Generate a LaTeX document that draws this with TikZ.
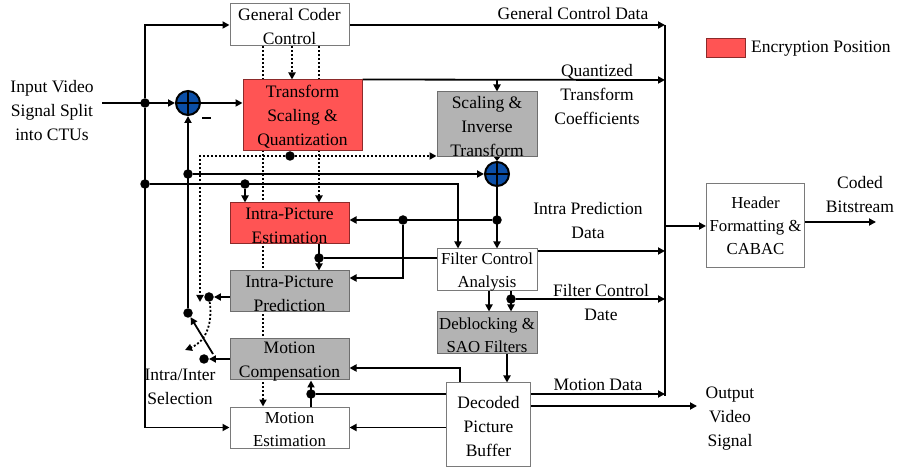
\documentclass[tikz,border=0pt]{standalone}
\usepackage{fontspec}
\setmainfont{Liberation Serif}
\usetikzlibrary{arrows.meta,backgrounds}
\definecolor{encred}{HTML}{FF5454}
\definecolor{encredb}{HTML}{8C2A2A}
\definecolor{boxgray}{HTML}{B3B3B3}
\definecolor{boxgrayb}{HTML}{6E6E6E}
\definecolor{wboxb}{HTML}{7A7A7A}
\definecolor{addblue}{HTML}{0B4EA6}
\begin{document}
\begin{tikzpicture}[x=1pt,y=-1pt,
  conn/.style={line width=1.8pt},
  arr/.style={conn,-{Triangle[length=7pt,width=7pt]}},
  dotl/.style={line width=1.8pt,dash pattern=on 2pt off 2pt},
  darr/.style={dotl,-{Triangle[length=7pt,width=7pt]}},
  wbox/.style={draw=wboxb,fill=white,line width=1pt,inner sep=0pt},
  rbox/.style={draw=encredb,fill=encred,line width=1pt,inner sep=0pt},
  gbox/.style={draw=boxgrayb,fill=boxgray,line width=1pt,inner sep=0pt},
  txt/.style={font=\rmfamily\fontsize{17.5}{24}\selectfont,align=center,inner sep=0pt},
  stxt/.style={font=\rmfamily\fontsize{16.8}{23}\selectfont,align=center,inner sep=0pt},
  jd/.style={circle,fill=black,inner sep=0pt,minimum size=9.5pt},
  adder/.style={circle,draw=black,fill=addblue,line width=2pt,inner sep=0pt,minimum size=24pt}
]
\useasboundingbox (0,0) rectangle (900,470);

% ---------- boxes ----------
\node[wbox,minimum width=119pt,minimum height=42pt] (gcc) at (289.5,25) {};
\node[rbox,minimum width=119pt,minimum height=71pt] (tsq) at (302.5,115.5) {};
\node[gbox,minimum width=100pt,minimum height=65pt] (sit) at (487,124.5) {};
\node[rbox,minimum width=119pt,minimum height=41pt] (ipe) at (289.5,223.5) {};
\node[gbox,minimum width=119pt,minimum height=41pt] (ipp) at (289.5,291.5) {};
\node[gbox,minimum width=119pt,minimum height=41pt] (mc) at (289.5,359.5) {};
\node[wbox,minimum width=119pt,minimum height=41pt] (me) at (289.5,427.5) {};
\node[wbox,minimum width=100pt,minimum height=42pt] (fca) at (487,270) {};
\node[gbox,minimum width=100pt,minimum height=42pt] (dsf) at (487,333) {};
\node[wbox,minimum width=84pt,minimum height=83pt] (dpb) at (488.5,424.5) {};
\node[wbox,minimum width=98pt,minimum height=84pt] (hdr) at (755.5,226) {};
\node[rbox,minimum width=39pt,minimum height=19pt] (leg) at (726,48.5) {};

\node[adder] (add1) at (188,103) {};
\node[adder] (add2) at (497,174) {};
\draw[line width=1.5pt] (add1.north) -- (add1.south) (add1.west) -- (add1.east);
\draw[line width=1.5pt] (add2.north) -- (add2.south) (add2.west) -- (add2.east);

% ---------- box texts ----------
\node[txt] (gccT) at (289.5,27) {General Coder\\Control};
\node[txt] (tsqT) at (302.5,117) {Transform\\Scaling \&\\Quantization};
\node[txt] (sitT) at (487,127) {Scaling \&\\Inverse\\Transform};
\node[txt] (ipeT) at (289.5,226) {Intra-Picture\\Estimation};
\node[txt] (ippT) at (289.5,294) {Intra-Picture\\Prediction};
\node[txt] (mcT) at (289.5,362) {Motion\\Compensation};
\node[stxt] (meT) at (289.5,430) {Motion\\Estimation};
\node[stxt] (fcaT) at (487,272) {Filter Control\\Analysis};
\node[stxt] (dsfT) at (487,335) {Deblocking \&\\SAO Filters};
\node[txt] (dpbT) at (488.5,427) {Decoded\\Picture\\Buffer};
\node[stxt] (hdrT) at (755.5,226) {Header\\Formatting \&\\CABAC};

% ---------- free labels ----------
\node[txt,anchor=west] (legT) at (751,48.5) {Encryption Position};
\node[txt] (gcdT) at (573,14) {General Control Data};
\node[txt] (qtcT) at (597,95) {Quantized\\Transform\\Coefficients};
\node[txt] (ipdT) at (588,221) {Intra Prediction\\Data};
\node[txt] (fcdT) at (601,303) {Filter Control\\Date};
\node[txt] (mdT) at (598,385) {Motion Data};
\node[txt] (ovsT) at (730,419) {Output\\Video\\Signal};
\node[txt] (cbT) at (860,195) {Coded\\Bitstream};
\node[txt] (inT) at (52,111) {Input Video\\Signal Split\\into CTUs};
\node[txt] (selT) at (180,387) {Intra/Inter\\Selection};
\node[fill=black,inner sep=0pt,minimum width=9pt,minimum height=2.5pt] (minus) at (206,118) {};

% ---------- junctions ----------
\node[jd] (j1) at (145,103) {};
\node[jd] (j2) at (145,184) {};
\node[jd] (j3) at (245,184) {};
\node[jd] (j4) at (188,174) {};
\node[jd] (sw) at (188,313) {};
\node[jd] (j5) at (497,220) {};
\node[jd] (j6) at (403,220) {};
\node[jd] (j7) at (319,258) {};
\node[jd] (j8) at (290,156) {};
\node[jd] (pI) at (209,297) {};
\node[jd] (pM) at (204,359) {};
\node[jd] (j9) at (511,299) {};
\node[jd] (j11) at (311,394) {};

\coordinate (in0) at (102,103);
\coordinate (gcd) at (665,25);
\coordinate (qd) at (665,80);
\coordinate (qb) at (497,80);
\coordinate (cf) at (458,184);
\coordinate (c6) at (403,278);
\coordinate (ipd) at (665,251);
\coordinate (f1) at (489,300);
\coordinate (fcd) at (665,299);
\coordinate (dx) at (507,380);
\coordinate (c10) at (460,368);
\coordinate (mdd) at (665,394);
\coordinate (ovs) at (697,406);
\coordinate (busb) at (665,396);
\coordinate (hin) at (665,226);
\coordinate (cbs) at (876,222);
\coordinate (swS) at (213,354);
\coordinate (sel) at (185,350);
\coordinate (c8) at (200,156);
\coordinate (e8) at (200,302);
\coordinate (dA) at (263,0);
\coordinate (dB) at (292,0);
\coordinate (dC) at (319,0);

% ---------- connectors ----------
\begin{scope}[on background layer]
\draw[arr] (in0) -- (add1);
\draw[arr] (j1) |- (gcc.west);
\draw[arr] (j1) |- (me.west);
\draw[arr] (add1) -- (tsq.west |- add1);
\draw[arr] (gcc.east) -- (gcd);
\draw[arr] (tsq.north east) -- (qd);
\draw[arr] (qb) -- (sit.north -| qb);
\draw[conn,-{Triangle[length=4pt,width=6pt]}] (sit.south -| add2) -- (add2);
\draw[arr] (j4) -- (add2);
\draw[arr] (sw) -- (add1);
\draw[arr] (j2) -- (cf) -- (fca.north -| cf);
\draw[arr] (j3) -- (ipe.north -| j3);
\draw[arr] (add2) -- (fca.north -| add2);
\draw[arr] (j5) -- (ipe.east |- j5);
\draw[arr] (j6) -- (c6) -- (ipp.east |- c6);
\draw[conn] (fca.west |- j7) -- (j7);
\draw[arr] (ipe.south -| j7) -- (ipp.north -| j7);
\draw[arr] (fca.east |- ipd) -- (ipd);
\draw[arr] (fca.south -| f1) -- (dsf.north -| f1);
\draw[arr] (fca.south -| j9) -- (dsf.north -| j9);
\draw[arr] (j9) -- (fcd);
\draw[arr] (dsf.south -| dx) -- (dpb.north -| dx);
\draw[arr] (dpb.north -| c10) -- (c10) -- (mc.east |- c10);
\draw[arr] (me.north -| j11) -- (mc.south -| j11);
\draw[arr] (j11) -- (mdd);
\draw[arr] (dpb.west |- me.east) -- (me.east);
\draw[arr] (dpb.east |- ovs) -- (ovs);
\draw[conn] (gcd) -- (busb);
\draw[arr] (hin) -- (hdr.west);
\draw[arr] (hdr.east |- cbs) -- (cbs);
\draw[arr] (ipp.west |- pI) -- (pI);
\draw[arr] (mc.west |- pM) -- (pM);
\draw[arr] (swS) -- (sw);
% dotted control paths
\draw[darr] (pI) .. controls (213,325) and (205,342) .. (sel);
\draw[darr] (gcc.south -| dA) -- (me.north -| dA);
\draw[darr] (gcc.south -| dB) -- (tsq.north -| dB);
\draw[darr] (gcc.south -| dC) -- (ipe.north -| dC);
\draw[darr] (j8) -- (sit.west |- j8);
\draw[darr] (j8) -- (c8) -- (e8);
\end{scope}
\end{tikzpicture}
\end{document}
